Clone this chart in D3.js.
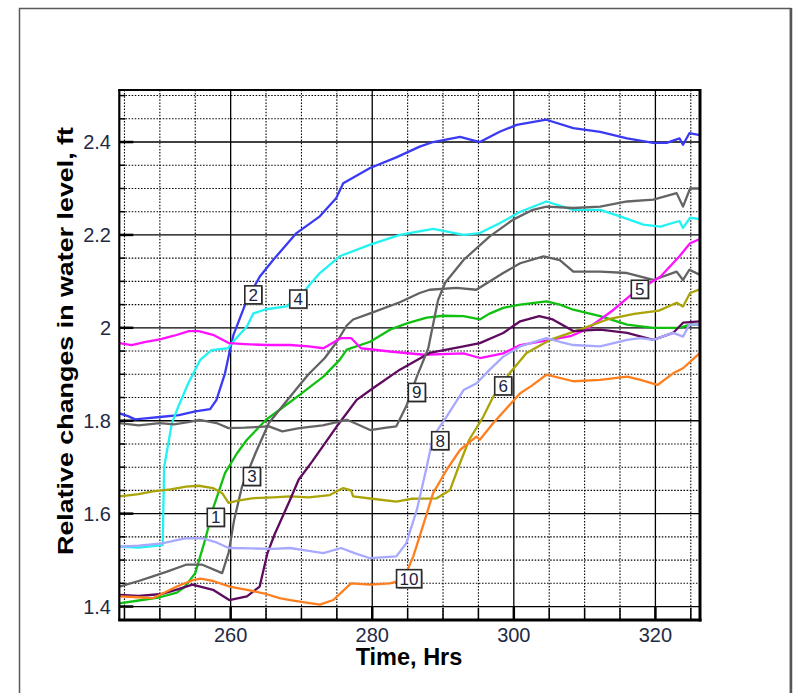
<!DOCTYPE html>
<html><head><meta charset="utf-8">
<script src="https://cdn.jsdelivr.net/npm/d3@7/dist/d3.min.js"></script>
<style>body{margin:0;background:#fff}svg{display:block}</style>
</head><body>
<svg id="c" width="793" height="693"></svg>
<script>
// ---- data (time in hrs, relative water level in ft) ----
const well1 = [[244.3,1.407],[247,1.413],[250,1.42],[252.4,1.43],[253.5,1.442],[255,1.472],[256.4,1.544],[257.6,1.615],[259.2,1.687],[260.9,1.73],[262.3,1.759],[265,1.802],[267.5,1.83],[269.7,1.855],[273.1,1.895],[275.4,1.931],[276.4,1.953],[279.7,1.97],[282.5,1.996],[285,2.01],[287.7,2.022],[290,2.026],[292.9,2.025],[295.2,2.018],[296.5,2.03],[298.5,2.043],[300.9,2.05],[304.6,2.057],[306.5,2.05],[308.4,2.039],[312.2,2.025],[316,2.007],[319.7,2.0],[323.4,2.0],[324.9,2.007],[326.3,2.007]];
const well2 = [[244.3,1.816],[245.5,1.81],[246.5,1.803],[248,1.805],[250,1.808],[252.7,1.812],[255,1.82],[257.1,1.825],[258,1.845],[259.2,1.902],[259.9,1.952],[260.4,1.985],[262.3,2.06],[264.1,2.11],[266,2.146],[269.3,2.204],[272.6,2.24],[274.9,2.279],[275.9,2.311],[279.7,2.344],[283.4,2.367],[286.7,2.39],[288.6,2.4],[292.4,2.411],[295.2,2.4],[298,2.422],[300.4,2.437],[304.6,2.448],[308.4,2.43],[312.2,2.422],[316,2.408],[319.7,2.398],[321.6,2.398],[323.4,2.408],[323.9,2.394],[324.8,2.419],[326.3,2.415]];
const well3 = [[244.3,1.443],[247,1.455],[249,1.465],[251,1.475],[253.7,1.49],[256,1.49],[258.8,1.472],[259.7,1.515],[260.5,1.587],[261.6,1.658],[263.5,1.73],[265.4,1.795],[267.5,1.835],[269.6,1.874],[271,1.9],[273.3,1.935],[275,1.97],[276.4,2.005],[277.3,2.018],[279.7,2.031],[283.9,2.055],[286.7,2.075],[288.1,2.082],[291.9,2.086],[294.7,2.082],[298.5,2.118],[300.9,2.139],[304.2,2.154],[306.5,2.146],[308.4,2.121],[312.2,2.121],[316,2.118],[319.7,2.103],[323,2.121],[323.9,2.103],[324.8,2.125],[326.3,2.114]];
const well4 = [[244.3,1.529],[247,1.527],[250.4,1.532],[250.6,1.7],[251.7,1.795],[252.6,1.83],[254,1.88],[255.7,1.931],[257.3,1.952],[259.6,1.956],[260.4,1.971],[262.3,2.003],[263.2,2.031],[265,2.04],[267.9,2.046],[270,2.07],[271,2.09],[272.6,2.118],[275.4,2.154],[279.7,2.179],[283.9,2.2],[288.6,2.213],[292.9,2.2],[295.2,2.204],[298,2.225],[300.9,2.25],[304.6,2.272],[308.4,2.254],[312.2,2.254],[315,2.24],[318.3,2.222],[320.7,2.218],[323.4,2.23],[323.9,2.215],[324.9,2.237],[326.3,2.234]];
const well5 = [[244.3,1.967],[246,1.963],[248,1.97],[250,1.975],[252,1.983],[254.1,1.993],[255.5,1.993],[257.5,1.985],[259.8,1.967],[262,1.965],[265,1.963],[268.4,1.963],[271,1.96],[273.1,1.956],[275.6,1.978],[277,1.978],[278.4,1.956],[282.5,1.949],[287.3,1.942],[292.9,1.945],[295.2,1.935],[298.5,1.945],[300.9,1.963],[305.1,1.974],[308,1.982],[310.3,1.997],[314.1,2.039],[316.9,2.075],[320.7,2.11],[323.4,2.154],[324.9,2.182],[326.3,2.191]];
const well6 = [[244.3,1.637],[247,1.642],[249,1.648],[251.5,1.652],[253.7,1.658],[255.5,1.66],[257.5,1.655],[258.8,1.644],[259.7,1.623],[261,1.628],[263,1.633],[266,1.635],[268.4,1.637],[271,1.635],[274,1.64],[275.9,1.655],[277,1.65],[277.3,1.637],[280,1.632],[283.4,1.626],[285.5,1.632],[289.1,1.633],[291,1.651],[292.4,1.709],[293.7,1.759],[295.7,1.809],[297.1,1.852],[299.4,1.902],[301.8,1.946],[305.1,1.974],[309.3,1.996],[313.2,2.018],[317,2.03],[320.5,2.037],[323,2.054],[323.9,2.046],[324.9,2.075],[326.3,2.083]];
const well7 = [[244.3,1.425],[247,1.423],[250.3,1.427],[252.5,1.437],[254.6,1.447],[257.5,1.436],[259.8,1.414],[262.3,1.422],[264.1,1.443],[265.2,1.515],[266.2,1.555],[268.4,1.63],[269.6,1.673],[271.5,1.712],[275.2,1.792],[277.8,1.845],[280.1,1.87],[283.9,1.91],[288.1,1.946],[292.9,1.96],[295.2,1.967],[298.5,1.989],[300.9,2.014],[303.6,2.025],[305.5,2.018],[308.4,1.993],[312.2,1.996],[316,1.989],[319.7,1.974],[322.5,1.989],[323.9,2.011],[326.3,2.014]];
const well8 = [[244.3,1.529],[247,1.531],[250.3,1.536],[253.7,1.547],[256,1.547],[258,1.538],[259.7,1.526],[263,1.525],[266,1.524],[268.4,1.526],[271,1.52],[273.1,1.515],[275.6,1.526],[277.5,1.515],[279.7,1.504],[283.4,1.508],[284.8,1.536],[286.3,1.608],[287.7,1.701],[288.6,1.766],[290.5,1.809],[292.9,1.866],[294.7,1.88],[296.6,1.91],[298.5,1.938],[300.9,1.96],[304.6,1.978],[306.5,1.97],[308.4,1.963],[312.2,1.96],[316,1.974],[317.9,1.978],[319.7,1.974],[322.5,1.989],[323.9,1.981],[324.8,2.007],[326.3,2.007]];
const well9 = [[244.3,1.795],[247,1.79],[250,1.795],[252,1.792],[254,1.797],[255.6,1.802],[258,1.795],[259.7,1.784],[262,1.785],[265.4,1.788],[267.3,1.777],[269.7,1.784],[273,1.79],[276.4,1.802],[277.5,1.795],[279.7,1.78],[282,1.785],[283.4,1.788],[284.8,1.831],[286.3,1.895],[287.9,1.955],[289.3,2.06],[290.3,2.097],[292.9,2.146],[296.6,2.197],[299.9,2.233],[302.7,2.254],[304.6,2.261],[308.4,2.258],[312.2,2.261],[316,2.272],[319.7,2.276],[323,2.29],[323.9,2.261],[324.9,2.3],[326.3,2.3]];
const well10 = [[244.3,1.422],[247,1.42],[249,1.418],[252.4,1.443],[254.7,1.457],[255.7,1.46],[257.5,1.455],[259.9,1.443],[262.3,1.436],[265,1.427],[266.9,1.418],[268.4,1.414],[270,1.41],[272.6,1.404],[274.5,1.414],[277,1.45],[279.7,1.447],[282.5,1.45],[284.4,1.458],[285.8,1.508],[287.3,1.58],[288.6,1.644],[290.5,1.694],[292.4,1.737],[294.7,1.766],[295.2,1.759],[297.1,1.795],[300.9,1.859],[302.5,1.875],[304.6,1.899],[308.4,1.885],[312.2,1.888],[316,1.895],[317.9,1.888],[320.3,1.877],[322.5,1.902],[323.9,1.913],[326.3,1.946]];

const seriesNames = ["1","2","3","4","5","6","7","8","9","10"];
const seriesData = [well1, well2, well3, well4, well5, well6, well7, well8, well9, well10];
const seriesColors = ["#10c010","#3a3af5","#626262","#22f2f2","#ff10ff","#aaa408","#5e0a5e","#a8a8ff","#646464","#ff7f1e"];
// label callouts (time, level) in data units
const labelNames = ["1","2","3","4","5","6","8","9","10"];
const labelTimes = [257.9, 263.2, 263.0, 269.55, 317.8, 298.5, 289.6, 286.3, 285.2];
const labelLevels = [1.592, 2.071, 1.68, 2.062, 2.083, 1.875, 1.757, 1.861, 1.46];

const xMajorTicks = [260, 280, 300, 320];
const xMinorTicks = [245,250,255,265,270,275,285,290,295,305,310,315,325];
const yMajorTicks = [1.4, 1.6, 1.8, 2.0, 2.2, 2.4];
const yMinorTicks = [1.45,1.5,1.55,1.65,1.7,1.75,1.85,1.9,1.95,2.05,2.1,2.15,2.25,2.3,2.35,2.45,2.5];
const yTickLabels = ["1.4","1.6","1.8","2","2.2","2.4"];

// ---- drawing ----
const svg = d3.select("#c");
const L = 119.3, R = 700, T = 90, B = 620;
const x = d3.scaleLinear().domain([244.27, 326.3]).range([L, R]);
const y = d3.scaleLinear().domain([1.371, 2.512]).range([B, T]);

// outer page border
svg.append("rect").attr("x",19.5).attr("y",8.5).attr("width",771).attr("height",700)
  .attr("fill","none").attr("stroke","#5a5a5a").attr("stroke-width",1.5);
svg.append("line").attr("x1",791).attr("x2",791).attr("y1",8).attr("y2",693)
  .attr("stroke","#555").attr("stroke-width",2.5);

const g = svg.append("g");
// minor dotted grid
g.selectAll(".vm").data(xMinorTicks).enter().append("line")
  .attr("x1",d=>x(d)).attr("x2",d=>x(d)).attr("y1",T).attr("y2",B)
  .attr("stroke","#000").attr("stroke-width",1.1).attr("stroke-dasharray","1.5,1.6");
g.selectAll(".hm").data(yMinorTicks).enter().append("line")
  .attr("x1",L).attr("x2",R).attr("y1",d=>y(d)).attr("y2",d=>y(d))
  .attr("stroke","#000").attr("stroke-width",1.1).attr("stroke-dasharray","1.5,1.6");
// major solid grid
g.selectAll(".vM").data(xMajorTicks).enter().append("line")
  .attr("x1",d=>x(d)).attr("x2",d=>x(d)).attr("y1",T).attr("y2",B)
  .attr("stroke","#000").attr("stroke-width",1.3);
g.selectAll(".hM").data(yMajorTicks).enter().append("line")
  .attr("x1",L).attr("x2",R).attr("y1",d=>y(d)).attr("y2",d=>y(d))
  .attr("stroke","#000").attr("stroke-width",1.3);

// ticks
g.selectAll(".lt").data(yMajorTicks).enter().append("line")
  .attr("x1",L).attr("x2",L+14).attr("y1",d=>y(d)).attr("y2",d=>y(d))
  .attr("stroke","#000").attr("stroke-width",2.5);
g.selectAll(".ltm").data(yMinorTicks).enter().append("line")
  .attr("x1",L).attr("x2",L+6).attr("y1",d=>y(d)).attr("y2",d=>y(d))
  .attr("stroke","#000").attr("stroke-width",1.5);
g.selectAll(".bt").data(xMajorTicks).enter().append("line")
  .attr("x1",d=>x(d)).attr("x2",d=>x(d)).attr("y1",B).attr("y2",B-14)
  .attr("stroke","#000").attr("stroke-width",2.5);
g.selectAll(".btm").data(xMinorTicks).enter().append("line")
  .attr("x1",d=>x(d)).attr("x2",d=>x(d)).attr("y1",B).attr("y2",B-12)
  .attr("stroke","#000").attr("stroke-width",1.5);

// series lines
const clip = svg.append("clipPath").attr("id","pc").append("rect")
  .attr("x",L).attr("y",T).attr("width",R-L).attr("height",B-T);
const line = d3.line().x(d=>x(d[0])).y(d=>y(d[1]));
const lg = svg.append("g").attr("clip-path","url(#pc)");
seriesData.forEach((s,i)=>{
  lg.append("path").datum(s).attr("d",line).attr("fill","none")
    .attr("stroke",seriesColors[i]).attr("stroke-width",2.3)
    .attr("stroke-linejoin","round").attr("stroke-linecap","round");
});

// frame
svg.append("line").attr("x1",L).attr("x2",L).attr("y1",T-1).attr("y2",B+1).attr("stroke","#000").attr("stroke-width",2.2);
svg.append("line").attr("x1",L-1).attr("x2",R+1).attr("y1",T).attr("y2",T).attr("stroke","#000").attr("stroke-width",2);
svg.append("line").attr("x1",R).attr("x2",R).attr("y1",T-1).attr("y2",B+1.5).attr("stroke","#000").attr("stroke-width",3);
svg.append("line").attr("x1",L-1).attr("x2",R+1.5).attr("y1",B).attr("y2",B).attr("stroke","#000").attr("stroke-width",3);

// tick labels
const tickColor = "#1f2a44";
svg.selectAll(".xl").data(xMajorTicks).enter().append("text")
  .attr("x",d=>x(d)).attr("y",642).attr("text-anchor","middle")
  .attr("font-family","Liberation Sans, Arial, sans-serif").attr("font-size",20)
  .attr("fill",tickColor).text(d=>d);
svg.selectAll(".yl").data(yMajorTicks).enter().append("text")
  .attr("x",111).attr("y",d=>y(d)+7).attr("text-anchor","end")
  .attr("font-family","Liberation Sans, Arial, sans-serif").attr("font-size",20)
  .attr("fill",tickColor).text((d,i)=>yTickLabels[i]);

// axis titles
svg.append("text").attr("x",409).attr("y",665).attr("text-anchor","middle")
  .attr("font-family","Liberation Sans, Arial, sans-serif").attr("font-weight","bold")
  .attr("font-size",23.5).attr("fill","#000").text("Time, Hrs");
svg.append("text").attr("transform","translate(73,341) rotate(-90)").attr("text-anchor","middle")
  .attr("font-family","Liberation Sans, Arial, sans-serif").attr("font-weight","bold")
  .attr("font-size",22).attr("fill","#000")
  .attr("textLength",428).attr("lengthAdjust","spacingAndGlyphs")
  .text("Relative changes in water level, ft");

// callout labels
labelNames.forEach((n,i)=>{
  const cx = x(labelTimes[i]), cy = y(labelLevels[i]);
  const w = n.length>1 ? 25 : 17, h = 18;
  const gg = svg.append("g");
  gg.append("rect").attr("x",cx-w/2+1.2).attr("y",cy-h/2+1.2).attr("width",w).attr("height",h).attr("fill","#9a9a9a");
  gg.append("rect").attr("x",cx-w/2).attr("y",cy-h/2).attr("width",w).attr("height",h)
    .attr("fill","#fff").attr("stroke","#2a2a2a").attr("stroke-width",1.6);
  gg.append("text").attr("x",cx).attr("y",cy+6).attr("text-anchor","middle")
    .attr("font-family","Liberation Sans, Arial, sans-serif").attr("font-size",17)
    .attr("fill","#1a2440").text(n);
});
</script>
</body></html>
